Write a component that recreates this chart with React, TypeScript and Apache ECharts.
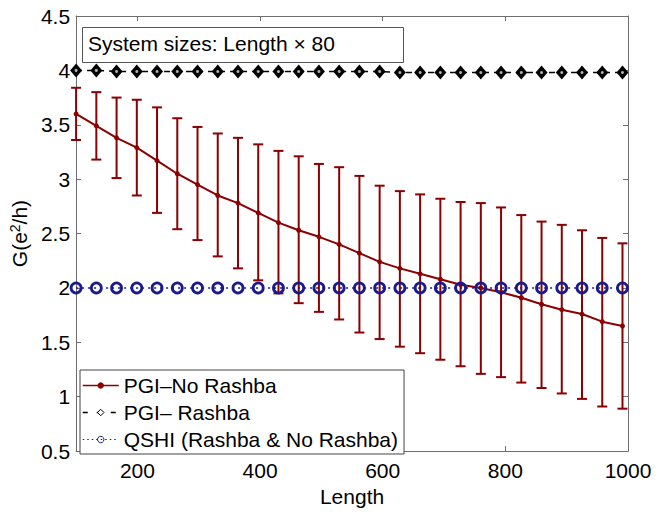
import React, { useEffect, useRef } from "react";
import * as echarts from "echarts";

const lengths = [100, 133, 166, 199, 232, 265, 298, 331, 364, 397, 430, 463, 496, 529, 562, 595, 628, 661, 694, 727, 760, 793, 826, 859, 892, 925, 958, 991];
const pgiNoRashba = [3.60, 3.49, 3.38, 3.29, 3.17, 3.05, 2.95, 2.85, 2.78, 2.69, 2.60, 2.53, 2.47, 2.40, 2.32, 2.24, 2.18, 2.13, 2.08, 2.03, 2.00, 1.96, 1.91, 1.85, 1.80, 1.76, 1.69, 1.65];
const pgiNoRashbaUpper = [3.84, 3.80, 3.75, 3.73, 3.66, 3.56, 3.48, 3.42, 3.38, 3.32, 3.26, 3.21, 3.14, 3.11, 3.03, 2.94, 2.89, 2.86, 2.82, 2.79, 2.78, 2.74, 2.67, 2.61, 2.58, 2.53, 2.46, 2.41];
const pgiNoRashbaLower = [3.36, 3.18, 3.01, 2.85, 2.69, 2.54, 2.44, 2.29, 2.18, 2.07, 1.95, 1.86, 1.78, 1.71, 1.59, 1.53, 1.46, 1.40, 1.34, 1.28, 1.21, 1.18, 1.13, 1.08, 1.03, 0.98, 0.91, 0.89];
const pgiRashba = [4.00, 4.00, 3.99, 3.99, 3.99, 3.99, 3.99, 3.99, 3.99, 3.99, 3.99, 3.99, 3.99, 3.99, 3.99, 3.99, 3.98, 3.98, 3.98, 3.98, 3.98, 3.98, 3.98, 3.98, 3.98, 3.98, 3.98, 3.98];
const qshi = [2.00, 2.00, 2.00, 2.00, 2.00, 2.00, 2.00, 2.00, 2.00, 2.00, 2.00, 2.00, 2.00, 2.00, 2.00, 2.00, 2.00, 2.00, 2.00, 2.00, 2.00, 2.00, 2.00, 2.00, 2.00, 2.00, 2.00, 2.00];
const xTicks = [200, 400, 600, 800, 1000];
const seriesNames = ["PGI\u2013No Rashba", "PGI\u2013 Rashba", "QSHI (Rashba & No Rashba)"];
const boxText = "System sizes: Length \u00d7 80";

const RED = "#8b0000";
const BLUE = "#1a1a8c";
const FONT = "Liberation Sans, Arial, Helvetica, sans-serif";
const AXIS_GRAY = "#6e6e6e";
const FS = 21;

export default function App() {
  const ref = useRef<HTMLDivElement>(null);
  useEffect(() => {
    if (!ref.current) return;
    const chart = echarts.init(ref.current, undefined, { renderer: "svg" });
    const zip = (ys: number[]) => lengths.map((x, i) => [x, ys[i]]);
    const errData = lengths.map((x, i) => [x, pgiNoRashbaLower[i], pgiNoRashbaUpper[i]]);
    const tickCommon = { show: true, inside: true, length: 5, lineStyle: { color: AXIS_GRAY } };
    const lineCommon = { show: true, lineStyle: { color: AXIS_GRAY, width: 1 } };
    chart.setOption({
      animation: false,
      textStyle: { fontFamily: FONT },
      grid: { left: 74, right: 40, top: 16, bottom: 50, containLabel: false },
      xAxis: [
        {
          type: "value", min: 100, max: 1000, position: "bottom",
          axisLine: lineCommon,
          axisTick: { ...tickCommon, customValues: xTicks },
          axisLabel: { customValues: xTicks, fontSize: FS, color: "#000", margin: 9, fontFamily: FONT, formatter: (v: number) => String(v) },
          splitLine: { show: false },
          name: "Length", nameLocation: "middle", nameGap: 28,
          nameTextStyle: { fontSize: FS, color: "#000", fontFamily: FONT },
        },
        {
          type: "value", min: 100, max: 1000, position: "top",
          axisLine: lineCommon,
          axisTick: { ...tickCommon, customValues: xTicks },
          axisLabel: { show: false },
          splitLine: { show: false },
        },
      ],
      yAxis: [
        {
          type: "value", min: 0.5, max: 4.5, interval: 0.5, position: "left",
          axisLine: lineCommon,
          axisTick: tickCommon,
          axisLabel: { fontSize: FS, color: "#000", margin: 6, fontFamily: FONT },
          splitLine: { show: false },
          name: "G(e{sup|2}/h)", nameLocation: "middle", nameGap: 45,
          nameTextStyle: {
            fontSize: FS, color: "#000", fontFamily: FONT,
            rich: { sup: { fontSize: 14, padding: [0, 0, 9, 0], fontFamily: FONT, color: "#000" } },
          },
        },
        {
          type: "value", min: 0.5, max: 4.5, interval: 0.5, position: "right",
          axisLine: lineCommon,
          axisTick: tickCommon,
          axisLabel: { show: false },
          splitLine: { show: false },
        },
      ],
      legend: {
        data: [
          { name: seriesNames[0], itemStyle: { color: RED, borderWidth: 0 }, lineStyle: { width: 1.5 } },
          { name: seriesNames[1], itemStyle: { color: "#fff", borderColor: "#000", borderWidth: 1 }, lineStyle: { color: "#000", width: 1.5, type: [5, 9] } },
          { name: seriesNames[2], itemStyle: { borderWidth: 1 }, lineStyle: { width: 1.2, type: [1.5, 3] } },
        ],
        orient: "vertical",
        left: 80, top: 370,
        backgroundColor: "#fff",
        borderColor: "#444", borderWidth: 1, borderRadius: 0,
        padding: [5, 6, 4, 2],
        itemWidth: 36, itemHeight: 8, itemGap: 6,
        textStyle: { fontSize: FS, color: "#000", fontFamily: FONT },
      },
      graphic: [
        {
          type: "rect", left: 82, top: 27, z: 10,
          shape: { width: 321, height: 35 },
          style: { fill: "#fff", stroke: "#555", lineWidth: 1 },
        },
        {
          type: "text", left: 88, top: 33, z: 11,
          style: { text: boxText, fontSize: FS, fontFamily: FONT, fill: "#000" },
        },
      ],
      series: [
        {
          name: "errbars", type: "custom", clip: false, z: 2,
          data: errData,
          renderItem: (params: any, api: any) => {
            const x = api.value(0);
            const lo = api.coord([x, api.value(1)]);
            const hi = api.coord([x, api.value(2)]);
            const hw = 5;
            const st = { stroke: RED, lineWidth: 2 };
            return {
              type: "group",
              children: [
                { type: "line", shape: { x1: lo[0], y1: lo[1], x2: hi[0], y2: hi[1] }, style: st },
                { type: "line", shape: { x1: lo[0] - hw, y1: lo[1], x2: lo[0] + hw, y2: lo[1] }, style: st },
                { type: "line", shape: { x1: hi[0] - hw, y1: hi[1], x2: hi[0] + hw, y2: hi[1] }, style: st },
              ],
            };
          },
        },
        {
          name: seriesNames[0], type: "line", data: zip(pgiNoRashba), z: 3,
          color: RED,
          lineStyle: { color: RED, width: 2 },
          symbol: "circle", symbolSize: 5,
          itemStyle: { color: RED },
        },
        {
          name: seriesNames[1], type: "line", data: zip(pgiRashba), z: 4,
          color: "#000",
          lineStyle: { color: "#000", width: 1.5, type: [6, 5] },
          symbol: "diamond", symbolSize: [12, 14],
          itemStyle: { color: "#000", borderColor: "#000", borderWidth: 0 },
        },
        {
          name: "diamondCenters", type: "scatter", data: zip(pgiRashba), z: 6,
          symbol: "circle", symbolSize: 3, silent: true,
          itemStyle: { color: "#ddd" },
        },
        {
          name: seriesNames[2], type: "line", data: zip(qshi), z: 5,
          color: BLUE,
          lineStyle: { color: BLUE, width: 1.5, type: [2, 4] },
          symbol: "circle", symbolSize: 10,
          itemStyle: { color: "rgba(0,0,0,0)", borderColor: BLUE, borderWidth: 2.8 },
        },
      ],
    });
    return () => chart.dispose();
  }, []);
  return <div ref={ref} style={{ position: "absolute", left: 0, top: 0, width: 668, height: 512 }} />;
}
